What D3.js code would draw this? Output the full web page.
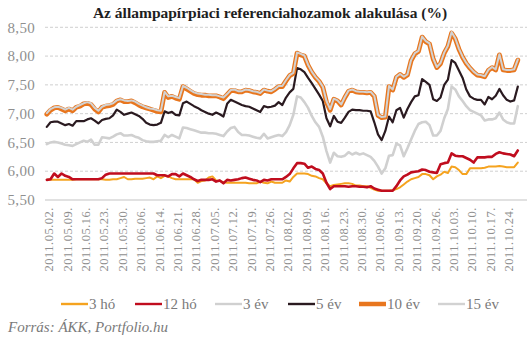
<!DOCTYPE html>
<html><head><meta charset="utf-8">
<script src="https://cdn.jsdelivr.net/npm/d3@7"></script>
<style>
html,body{margin:0;padding:0;background:#fff;}
svg{display:block;}
</style></head>
<body><svg id="c" width="529" height="340"></svg>
<script>
const tickLabels = ["2011.05.02.","2011.05.09.","2011.05.16.","2011.05.23.","2011.05.30.","2011.06.06.","2011.06.14.","2011.06.21.","2011.06.28.","2011.07.05.","2011.07.12.","2011.07.19.","2011.07.26.","2011.08.02.","2011.08.09.","2011.08.16.","2011.08.23.","2011.08.30.","2011.09.06.","2011.09.13.","2011.09.20.","2011.09.26.","2011.10.03.","2011.10.10.","2011.10.17.","2011.10.24."];
const yTicks = [5.5,6.0,6.5,7.0,7.5,8.0,8.5];
const seriesNames = ["3 hó","12 hó","3 év","5 év","10 év","15 év"];

const ho3 = [5.85,5.85,5.85,5.85,5.85,5.85,5.85,5.85,5.86,5.86,
5.86,5.86,5.86,5.86,5.86,5.86,5.85,5.85,5.86,5.86,
5.88,5.90,5.86,5.86,5.87,5.87,5.87,5.88,5.89,5.86,
5.91,5.88,5.92,5.91,5.88,5.86,5.86,5.86,5.86,5.86,
5.86,5.80,5.83,5.84,5.89,5.91,5.84,5.83,5.81,5.80,
5.80,5.80,5.80,5.80,5.80,5.79,5.79,5.79,5.82,5.80,
5.79,5.82,5.80,5.80,5.80,5.84,5.82,5.90,5.96,5.96,
5.96,5.95,5.92,5.91,5.88,5.86,5.79,5.74,5.76,5.77,
5.78,5.79,5.79,5.78,5.75,5.75,5.74,5.74,5.71,5.68,
5.66,5.66,5.66,5.66,5.67,5.69,5.72,5.77,5.82,5.86,
5.88,5.90,5.95,5.95,5.93,5.86,5.91,5.94,5.99,5.97,
6.08,6.07,6.02,5.95,5.95,6.05,6.05,6.05,6.05,6.06,
6.08,6.08,6.08,6.09,6.08,6.07,6.07,6.07,6.15];

const ho12 = [5.85,5.86,5.96,5.90,5.96,5.92,5.90,5.86,5.86,5.86,
5.86,5.86,5.86,5.86,5.86,5.88,5.94,5.96,5.96,5.96,
5.96,5.96,5.96,5.96,5.96,5.96,5.96,5.96,5.96,5.96,
5.93,5.93,5.93,5.91,5.95,5.95,5.91,5.96,5.93,5.90,
5.86,5.83,5.85,5.85,5.85,5.86,5.82,5.84,5.79,5.85,
5.84,5.85,5.86,5.88,5.89,5.87,5.85,5.84,5.81,5.85,
5.84,5.86,5.86,5.86,5.86,5.90,5.95,6.05,6.14,6.14,
6.13,6.06,6.08,6.04,6.02,5.96,5.80,5.69,5.74,5.74,
5.74,5.74,5.73,5.74,5.74,5.73,5.73,5.72,5.74,5.70,
5.68,5.66,5.66,5.66,5.66,5.74,5.84,5.91,5.94,5.98,
5.99,6.00,6.03,6.02,5.99,5.98,5.97,6.12,6.14,6.15,
6.31,6.27,6.26,6.26,6.23,6.20,6.15,6.24,6.24,6.24,
6.25,6.25,6.30,6.33,6.31,6.30,6.29,6.26,6.36];

const ev3 = [6.47,6.50,6.51,6.50,6.48,6.46,6.45,6.44,6.47,6.50,
6.53,6.51,6.55,6.46,6.46,6.59,6.58,6.57,6.60,6.64,
6.66,6.62,6.62,6.63,6.60,6.58,6.54,6.52,6.51,6.51,
6.52,6.53,6.63,6.59,6.63,6.60,6.57,6.76,6.75,6.73,
6.71,6.69,6.67,6.67,6.66,6.66,6.65,6.63,6.61,6.69,
6.75,6.77,6.68,6.63,6.63,6.62,6.60,6.58,6.57,6.65,
6.57,6.59,6.61,6.63,6.61,6.68,6.80,6.98,7.30,7.28,
7.20,7.10,6.96,6.85,6.77,6.60,6.35,6.15,6.32,6.26,
6.25,6.27,6.33,6.29,6.32,6.29,6.31,6.28,6.25,6.18,
6.08,5.96,6.05,6.27,6.28,6.48,6.45,6.26,6.40,6.55,
6.70,6.82,6.85,6.86,6.80,6.62,6.62,6.70,6.92,7.08,
7.47,7.42,7.30,7.22,7.13,7.06,7.03,7.00,6.97,6.88,
6.90,6.90,6.92,7.02,6.90,6.85,6.83,6.83,7.13];

const ev5 = [6.77,6.85,6.86,6.86,6.83,6.80,6.82,6.79,6.87,6.87,
6.87,6.90,6.92,6.88,6.83,6.89,6.91,6.92,6.97,7.07,
7.03,6.98,7.00,7.02,6.99,6.96,6.91,6.84,6.81,6.80,
6.81,6.84,7.04,7.01,7.03,6.98,6.97,7.18,7.21,7.17,
7.13,7.10,7.06,7.03,7.00,6.98,7.02,6.99,6.95,7.17,
7.24,7.21,7.18,7.15,7.13,7.12,7.09,7.06,7.03,7.13,
7.11,7.12,7.14,7.20,7.15,7.28,7.37,7.43,7.79,7.77,
7.72,7.62,7.53,7.43,7.33,7.22,6.92,6.78,6.96,6.86,
6.84,6.93,7.03,7.07,7.06,7.06,7.05,7.05,7.04,6.85,
6.64,6.54,6.70,6.95,6.85,7.06,7.10,6.93,7.08,7.20,
7.30,7.32,7.60,7.55,7.50,7.25,7.22,7.28,7.50,7.59,
7.93,7.88,7.75,7.62,7.42,7.30,7.26,7.24,7.24,7.16,
7.29,7.25,7.31,7.43,7.32,7.24,7.21,7.23,7.47];

const ev10 = [6.99,7.06,7.10,7.11,7.08,7.05,7.08,7.05,7.11,7.13,
7.17,7.18,7.16,7.08,7.03,7.11,7.13,7.14,7.16,7.22,
7.24,7.21,7.21,7.22,7.19,7.15,7.12,7.10,7.08,7.06,
7.04,7.03,7.37,7.28,7.30,7.27,7.25,7.47,7.43,7.39,
7.35,7.33,7.32,7.32,7.31,7.31,7.31,7.29,7.26,7.33,
7.40,7.40,7.38,7.38,7.41,7.40,7.38,7.37,7.35,7.41,
7.39,7.38,7.42,7.47,7.47,7.57,7.66,7.70,8.05,8.02,
8.00,7.84,7.72,7.63,7.56,7.46,7.20,7.06,7.25,7.22,
7.15,7.28,7.39,7.41,7.38,7.37,7.37,7.36,7.37,7.30,
6.97,6.93,6.94,7.47,7.41,7.63,7.68,7.63,7.67,7.92,
8.04,8.08,8.33,8.25,8.21,7.95,7.80,7.87,8.05,8.17,
8.40,8.30,8.12,7.98,7.87,7.79,7.72,7.67,7.66,7.64,
7.75,7.80,7.76,8.02,7.76,7.75,7.75,7.76,7.93];

const ev15 = [7.01,7.08,7.11,7.12,7.10,7.07,7.10,7.07,7.12,7.15,
7.18,7.20,7.18,7.10,7.05,7.12,7.15,7.16,7.18,7.23,
7.25,7.23,7.22,7.23,7.21,7.17,7.14,7.11,7.09,7.08,
7.06,7.05,7.38,7.30,7.31,7.29,7.27,7.48,7.45,7.41,
7.37,7.35,7.34,7.33,7.33,7.32,7.32,7.30,7.28,7.34,
7.41,7.42,7.39,7.39,7.42,7.41,7.39,7.38,7.36,7.42,
7.40,7.39,7.43,7.48,7.48,7.58,7.67,7.71,8.06,8.04,
8.01,7.85,7.73,7.64,7.57,7.47,7.22,7.08,7.26,7.23,
7.16,7.29,7.40,7.42,7.39,7.38,7.38,7.37,7.38,7.31,
6.98,6.94,6.95,7.48,7.42,7.64,7.69,7.64,7.68,7.93,
8.05,8.09,8.34,8.26,8.22,7.96,7.81,7.88,8.06,8.18,
8.42,8.31,8.13,7.99,7.88,7.80,7.73,7.68,7.67,7.65,
7.76,7.81,7.77,8.03,7.77,7.76,7.76,7.77,7.94];

const seriesData = [ho3, ho12, ev3, ev5, ev10, ev15];
const colors = ["#f5a31f","#c00d1e","#d0d0d0","#2a1a20","#e8761e","#d2d2d2"];
const widths = [2, 2.6, 2.6, 2.2, 4.8, 2];

const svg = d3.select("#c");
const L = 45, R = 527, T = 27.3, B = 200;
const n = ho3.length;
const x = d3.scaleLinear().domain([-0.5, n + 1.5]).range([L, R]);
const y = d3.scaleLinear().domain([5.5, 8.5]).range([B, T]);
const serif = "'Liberation Serif', 'Times New Roman', serif";

// title
svg.append("text").attr("x", 270).attr("y", 18).attr("text-anchor","middle")
  .attr("font-family", serif).attr("font-weight","bold").attr("font-size", 15.5)
  .attr("fill","#1e1e1e").text("Az állampapírpiaci referenciahozamok alakulása (%)");

// gridlines
const fmt = d3.format(".2f");
svg.append("g").selectAll("line").data(yTicks.filter(v => v > 5.5)).join("line")
  .attr("x1", L).attr("x2", R).attr("y1", d => y(d)).attr("y2", d => y(d))
  .attr("stroke","#c4c4c4").attr("stroke-width",0.8).attr("stroke-dasharray","3,2");
svg.append("line").attr("x1", L).attr("x2", R).attr("y1", y(5.5)).attr("y2", y(5.5))
  .attr("stroke","#c4c4c4").attr("stroke-width",1.2);

// y labels
svg.append("g").selectAll("text").data(yTicks).join("text")
  .attr("x", 35).attr("y", d => y(d)).attr("dy","0.35em").attr("text-anchor","end")
  .attr("font-family", serif).attr("font-size", 15).attr("fill","#8f8f8f")
  .attr("letter-spacing", 0.3)
  .text(d => fmt(d).replace(".", ","));

// x labels
svg.append("g").selectAll("text").data(tickLabels).join("text")
  .attr("transform", (d,i) => `translate(${x(i*5)+2},207) rotate(-90)`)
  .attr("dy","0.35em").attr("text-anchor","end")
  .attr("font-family", serif).attr("font-size", 12.5).attr("fill","#8f8f8f")
  .attr("letter-spacing", 0.5)
  .text(d => d);

// lines
const line = d3.line().x((d,i) => x(i)).y(d => y(d)).curve(d3.curveLinear);
svg.append("g").selectAll("path").data(seriesData).join("path")
  .attr("d", d => line(d)).attr("fill","none")
  .attr("stroke", (d,i) => colors[i]).attr("stroke-width", (d,i) => widths[i])
  .attr("stroke-linejoin","round").attr("stroke-linecap","round");

// legend
const legX = [61, 135, 215, 288, 359, 438];
const lg = svg.append("g").selectAll("g").data(seriesNames).join("g")
  .attr("transform", (d,i) => `translate(${legX[i]},304)`);
lg.append("line").attr("x1",0).attr("x2",27).attr("y1",0).attr("y2",0)
  .attr("stroke", (d,i) => colors[i]).attr("stroke-width", (d,i) => i===4 ? 4.5 : 2.4);
lg.append("text").attr("x", 28).attr("y", 5).attr("font-family", serif)
  .attr("font-size", 15).attr("fill","#7a7a7a").text(d => d);

// source
svg.append("text").attr("x", 8).attr("y", 332).attr("font-family", serif)
  .attr("font-style","italic").attr("font-size", 15).attr("fill","#7a7a7a")
  .text("Forrás: ÁKK, Portfolio.hu");
</script>
</body></html>
